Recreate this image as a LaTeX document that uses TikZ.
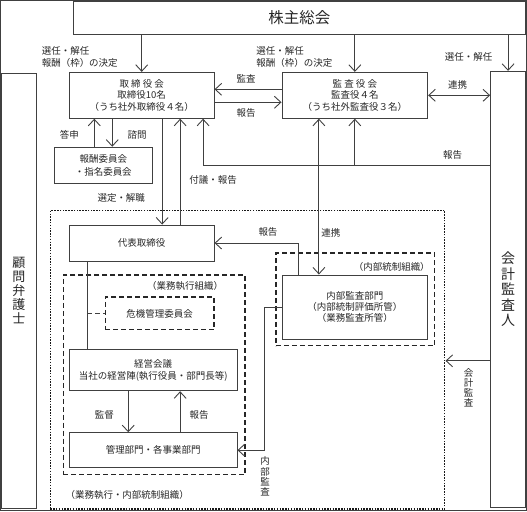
\documentclass[tikz,border=0pt]{standalone}
\usepackage{fontspec}
\setmainfont{Noto Sans CJK JP}
\usetikzlibrary{arrows.meta,calc}
\begin{document}
\begin{tikzpicture}[x=1pt,y=-1pt,
  every path/.style={line width=0.9pt, draw=black!75},
  box/.style={draw=black!75, line width=0.9pt, inner sep=0pt, align=center, text=black!85, font=\fontsize{9.5}{11.5}\selectfont},
  lbl/.style={inner sep=0pt, text=black!85, font=\fontsize{9.5}{12}\selectfont, align=left},
  vlbl/.style={inner sep=0pt, text=black!85, font=\fontsize{9.5}{10.3}\selectfont, align=center},
  arr/.style={-{Straight Barb[length=6.5pt,width=12pt]}},
  darr/.style={{Straight Barb[length=6.5pt,width=12pt]}-{Straight Barb[length=6.5pt,width=12pt]}},
  dashbox/.style={draw=black!85, line width=1.2pt, dash pattern=on 5pt off 3pt, inner sep=0pt},
  dotbox/.style={draw=black!90, line width=1.6pt, dash pattern=on 1.5pt off 1.3pt, inner sep=0pt},
]
\useasboundingbox (0,0) rectangle (527,511);

% frames
\node[dotbox, minimum width=395pt, minimum height=299pt] (outer) at (247.5,360) {};
\node[dashbox, minimum width=182pt, minimum height=200pt] (execfr) at (154,375) {};
\node[dashbox, minimum width=159pt, minimum height=93pt] (icfr) at (355.5,299.5) {};

% boxes
\node[box, minimum width=452pt, minimum height=33pt, font=\fontsize{15.5}{18}\selectfont] (sh) at (299.5,17.5) {株主総会};
\node[box, minimum width=35pt, minimum height=436pt, font=\fontsize{13}{14}\selectfont] (lawyer) at (18.5,291) {顧\\問\\弁\\護\\士};
\node[box, minimum width=35pt, minimum height=437pt, font=\fontsize{14}{15.5}\selectfont] (auditor) at (508.5,289.5) {会\\計\\監\\査\\人};
\node[box, minimum width=145pt, minimum height=46pt] (board) at (141.5,95) {取 締 役 会\\取締役10名\\（うち社外取締役４名）};
\node[box, minimum width=146pt, minimum height=46pt] (kansa) at (355,95) {監 査 役 会\\監査役４名\\（うち社外監査役３名）};
\node[box, minimum width=98pt, minimum height=36pt, font=\fontsize{9.5}{13.5}\selectfont] (comm) at (103,165) {報酬委員会\\・指名委員会};
\node[box, minimum width=145pt, minimum height=36pt] (rep) at (141.5,243) {代表取締役};
\node[box, minimum width=146pt, minimum height=65pt, font=\fontsize{9.5}{11}\selectfont] (ia) at (355,307.5) {内部監査部門\\（内部統制評価所管）\\（業務監査所管）};
\node[box, dashbox, minimum width=109pt, minimum height=33pt] (crisis) at (159.5,313.5) {危機管理委員会};
\node[box, minimum width=168pt, minimum height=41pt, font=\fontsize{9.5}{11.5}\selectfont] (mgmt) at (153,370.5) {経営会議\\当社の経営陣(執行役員・部門長等)};
\node[box, minimum width=168pt, minimum height=35pt] (dept) at (153,450.5) {管理部門・各事業部門};

% connectors
\draw[arr] (sh.south -| board.north) -- (board.north);
\draw[arr] (sh.south -| kansa.north) -- (kansa.north);
\draw[arr] (sh.south -| auditor.north) -- (auditor.north);
\draw[arr] ([yshift=6pt]kansa.west) -- ([yshift=6pt]board.east);
\draw[arr] ([yshift=-7pt]board.east) -- ([yshift=-7pt]kansa.west);
\draw[darr] (kansa.east) -- (kansa.east -| auditor.west);
\draw[arr] ([xshift=-9pt]comm.north) -- ([xshift=-9pt]comm.north |- board.south);
\draw[arr] ([xshift=9pt]comm.north |- board.south) -- ([xshift=9pt]comm.north);
\draw[arr] ([xshift=20.5pt]board.south) -- ([xshift=20.5pt]rep.north);
\draw[arr] ([xshift=38.5pt]rep.north) -- ([xshift=38.5pt]board.south);
\coordinate (ry) at (0,165);
\draw[arr] (auditor.west |- ry) -- ([xshift=61.5pt]board.south |- ry) -- ([xshift=61.5pt]board.south);
\draw[arr] (kansa.south |- ry) -- (kansa.south);
\draw[darr] ([xshift=-36pt]kansa.south) -- ([xshift=-36pt]ia.north);
\draw[arr] ([xshift=-56pt]ia.north) |- (rep.east);
\draw ([xshift=-54.5pt]rep.south) -- ([xshift=-54.5pt]rep.south |- mgmt.north);
\draw[dash pattern=on 5pt off 3pt, line width=1.1pt] ([xshift=-54.5pt]rep.south |- crisis.west) -- (crisis.west);
\draw[arr] ([xshift=-25pt]mgmt.south) -- ([xshift=-25pt]dept.north);
\draw[arr] ([xshift=27pt]dept.north) -- ([xshift=27pt]mgmt.south);
\coordinate (ix) at (264,0);
\draw[arr] (ia.west) -- (ix |- ia.west) -- (ix |- dept.east) -- (dept.east);
\coordinate (ay) at (0,361);
\draw[arr] (auditor.west |- ay) -- (outer.east |- ay);

% labels
\node[lbl, anchor=west] (l1) at (41,57) {選任・解任\\報酬（枠）の決定};
\node[lbl, anchor=west] (l2) at (256,57) {選任・解任\\報酬（枠）の決定};
\node[lbl] (l3) at (469,57) {選任・解任};
\node[lbl] (l4) at (246,78) {監査};
\node[lbl] (l5) at (246,113) {報告};
\node[lbl] (l6) at (458,85) {連携};
\node[lbl] (l7) at (69,135) {答申};
\node[lbl] (l8) at (137,135) {諮問};
\node[lbl] (l9) at (213,180) {付議・報告};
\node[lbl] (l10) at (453,155) {報告};
\node[lbl] (l11) at (121,198) {選定・解職};
\node[lbl] (l12) at (268,232) {報告};
\node[lbl] (l13) at (331,233) {連携};
\node[lbl] (l14) at (392,267) {（内部統制組織）};
\node[lbl] (l15) at (185,286) {（業務執行組織）};
\node[lbl] (l16) at (104,415) {監督};
\node[lbl] (l17) at (199,415) {報告};
\node[lbl] (l18) at (127,495) {（業務執行・内部統制組織）};
\node[vlbl] (l19) at (265,477) {内\\部\\監\\査};
\node[vlbl] (l20) at (469,388) {会\\計\\監\\査};
\end{tikzpicture}
\end{document}
